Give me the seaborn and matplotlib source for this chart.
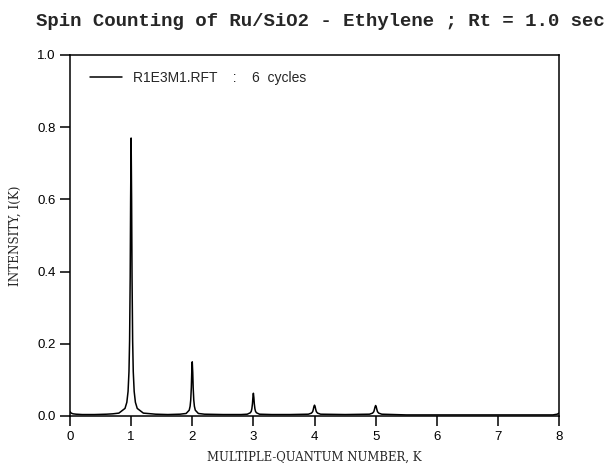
import numpy as np
import pandas as pd
import seaborn as sns
import matplotlib.pyplot as plt

# multiple-quantum spin counting spectrum
k = [0.0, 0.02, 0.05, 0.1, 0.2, 0.4, 0.6, 0.7, 0.8, 0.9,
     0.93, 0.95, 0.965, 0.975, 0.985, 0.992, 1.0, 1.008, 1.015, 1.025,
     1.035, 1.05, 1.07, 1.1, 1.2, 1.4, 1.6, 1.8, 1.9, 1.95,
     1.965, 1.975, 1.985, 1.992, 2.0, 2.008, 2.015, 2.025, 2.035, 2.05,
     2.1, 2.2, 2.5, 2.8, 2.9, 2.95, 2.965, 2.975, 2.985, 2.992,
     3.0, 3.008, 3.015, 3.025, 3.035, 3.05, 3.1, 3.3, 3.6, 3.9,
     3.95, 3.97, 3.98, 3.99, 4.0, 4.01, 4.02, 4.03, 4.05, 4.1,
     4.5, 4.9, 4.95, 4.97, 4.98, 4.99, 5.0, 5.01, 5.02, 5.03,
     5.05, 5.1, 5.5, 6.0, 6.5, 7.0, 7.5, 7.9, 7.97, 8.0]
intensity = [0.012, 0.008, 0.006, 0.005, 0.004, 0.004, 0.005, 0.006, 0.008, 0.021,
             0.038, 0.068, 0.123, 0.208, 0.385, 0.600, 0.770, 0.600, 0.385, 0.208,
             0.123, 0.068, 0.038, 0.021, 0.008, 0.005, 0.004, 0.005, 0.007, 0.016,
             0.027, 0.044, 0.079, 0.121, 0.150, 0.121, 0.079, 0.044, 0.027, 0.016,
             0.007, 0.005, 0.004, 0.004, 0.005, 0.009, 0.013, 0.020, 0.034, 0.051,
             0.063, 0.051, 0.034, 0.020, 0.013, 0.009, 0.005, 0.004, 0.004, 0.005,
             0.008, 0.012, 0.018, 0.026, 0.030, 0.026, 0.018, 0.012, 0.008, 0.005,
             0.004, 0.005, 0.008, 0.012, 0.018, 0.025, 0.029, 0.025, 0.018, 0.012,
             0.008, 0.005, 0.003, 0.003, 0.003, 0.003, 0.003, 0.003, 0.005, 0.008]
series_label = "R1E3M1.RFT    :    6  cycles"
x_ticks = [0, 1, 2, 3, 4, 5, 6, 7, 8]
y_ticks = [0.0, 0.2, 0.4, 0.6, 0.8, 1.0]

df = pd.DataFrame({"k": k, "intensity": intensity})

sns.set_style("ticks")
plt.rcParams['font.family'] = ['Liberation Sans', 'DejaVu Sans']

fig = plt.figure(figsize=(6.15, 4.66), dpi=100)
ax = fig.add_axes([0.1138, 0.1073, 0.7952, 0.7747])

sns.lineplot(data=df, x="k", y="intensity", color="black", linewidth=1.1,
             label=series_label, ax=ax)

ax.set_xlim(0, 8)
ax.set_ylim(0, 1.0)
ax.set_xticks(x_ticks)
ax.set_xticklabels([str(t) for t in x_ticks])
ax.set_yticks(y_ticks)
ax.set_yticklabels([f"{t:.1f}" for t in y_ticks])
ax.tick_params(direction="out", length=7, width=1.1, labelsize=9.5, colors="black")
for s in ax.spines.values():
    s.set_color("black")
    s.set_linewidth(1.1)

ax.set_xlabel("MULTIPLE-QUANTUM NUMBER, K", family="DejaVu Serif", fontsize=8.4, labelpad=6)
ax.set_ylabel("INTENSITY, I(K)", family="DejaVu Serif", fontsize=8.6, labelpad=11)

leg = ax.legend(loc="upper left", frameon=False, fontsize=10, handlelength=2.3,
                handletextpad=0.8, borderaxespad=0.0, bbox_to_anchor=(0.03, 0.972))

fig.text(36 / 615, 1 - 22 / 466, "Spin Counting of Ru/SiO2 - Ethylene ; Rt = 1.0 sec",
         family="Liberation Mono", weight="bold", fontsize=13.7, va="center", ha="left")

fig.savefig("out.png", dpi=100)
